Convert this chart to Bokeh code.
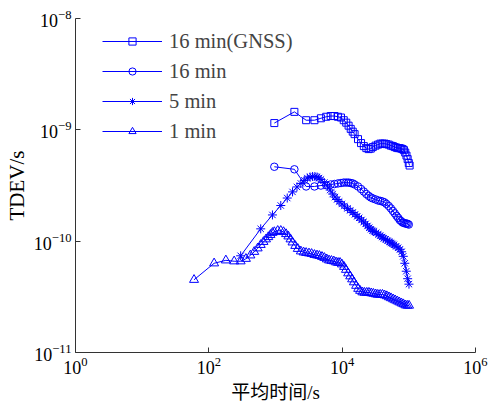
from bokeh.plotting import figure
from bokeh.models import Legend, LegendItem, FixedTicker, Range1d
from bokeh.embed import file_html
from bokeh.resources import INLINE

# ---------------- data (averaging time tau in s, TDEV in s) ----------------
tau_gnss = [960, 1920, 2880, 3840, 4800, 5760, 6720, 7680, 8640, 9600, 10560, 11520,
            12480, 13440, 14400, 15360, 17280, 19200, 21120, 23040, 24960, 26880, 28800,
            31680, 34560, 37440, 40320, 43200, 46080, 49920, 53760, 57600, 61440, 65280,
            69120, 72960, 76800, 80640, 84480, 88320, 92160, 96000, 99840, 102720]
tdev_gnss = [1.15e-9, 1.45e-9, 1.22e-9, 1.22e-9, 1.27e-9, 1.31e-9, 1.33e-9, 1.33e-9,
             1.31e-9, 1.29e-9, 1.22e-9, 1.16e-9, 1.09e-9, 1.02e-9, 0.963e-9, 0.915e-9,
             0.825e-9, 0.760e-9, 0.714e-9, 0.685e-9, 0.671e-9, 0.678e-9, 0.700e-9,
             0.721e-9, 0.737e-9, 0.752e-9, 0.752e-9, 0.752e-9, 0.744e-9, 0.737e-9,
             0.721e-9, 0.714e-9, 0.700e-9, 0.692e-9, 0.685e-9, 0.685e-9, 0.678e-9,
             0.671e-9, 0.657e-9, 0.625e-9, 0.587e-9, 0.546e-9, 0.503e-9, 0.478e-9]

tau_16 = [960, 1920, 2880, 3840, 4800, 5760, 6720, 7680, 8640, 9600, 10560, 11520,
          12480, 13440, 14400, 15360, 17280, 19200, 21120, 23040, 24960, 26880, 28800,
          31680, 34560, 37440, 40320, 43200, 46080, 49920, 53760, 57600, 61440, 65280,
          69120, 72960, 76800, 80640, 84480, 88320, 92160, 96000, 99840]
tdev_16 = [4.66e-10, 4.42e-10, 3.10e-10, 3.10e-10, 3.16e-10, 3.19e-10, 3.23e-10, 3.26e-10,
           3.30e-10, 3.33e-10, 3.36e-10, 3.36e-10, 3.36e-10, 3.33e-10, 3.30e-10, 3.23e-10,
           3.10e-10, 2.94e-10, 2.79e-10, 2.65e-10, 2.55e-10, 2.47e-10, 2.42e-10, 2.37e-10,
           2.32e-10, 2.30e-10, 2.27e-10, 2.23e-10, 2.16e-10, 2.07e-10, 1.97e-10, 1.87e-10,
           1.78e-10, 1.69e-10, 1.62e-10, 1.55e-10, 1.51e-10, 1.47e-10, 1.46e-10, 1.44e-10,
           1.44e-10, 1.43e-10, 1.41e-10]

tau_5 = [300, 600, 900, 1200, 1500, 1800, 2100, 2400, 2700, 3000, 3300, 3600, 3900, 4200,
         4500, 4800, 5400, 6000, 6600, 7200, 7800, 8400, 9000, 9900, 10800, 12000, 13200,
         14400, 15600, 16800, 18000, 19500, 21000, 22500, 24000, 25500, 27000, 28500,
         30000, 32400, 34800, 37200, 39600, 42000, 45000, 48000, 51000, 54000, 57000,
         60000, 64500, 69000, 73500, 78000, 82500, 87000, 91500, 96000, 100500]
tdev_5 = [7.39e-11, 1.29e-10, 1.72e-10, 2.09e-10, 2.44e-10, 2.77e-10, 3.07e-10, 3.30e-10,
          3.51e-10, 3.69e-10, 3.77e-10, 3.81e-10, 3.81e-10, 3.77e-10, 3.69e-10, 3.58e-10,
          3.36e-10, 3.13e-10, 2.88e-10, 2.65e-10, 2.49e-10, 2.37e-10, 2.27e-10, 2.16e-10,
          2.07e-10, 1.97e-10, 1.89e-10, 1.81e-10, 1.74e-10, 1.67e-10, 1.62e-10, 1.55e-10,
          1.49e-10, 1.43e-10, 1.37e-10, 1.32e-10, 1.28e-10, 1.24e-10, 1.22e-10, 1.19e-10,
          1.15e-10, 1.12e-10, 1.09e-10, 1.06e-10, 1.04e-10, 1.01e-10, 9.86e-11, 9.66e-11,
          9.46e-11, 9.27e-11, 8.99e-11, 8.72e-11, 8.45e-11, 8.03e-11, 7.31e-11, 6.33e-11,
          5.37e-11, 4.60e-11, 4.11e-11]

tau_1 = [60, 120, 180, 240, 300, 360, 420, 480, 540, 600, 660, 720, 780, 840, 900, 960,
         1080, 1200, 1320, 1440, 1560, 1680, 1800, 1980, 2160, 2400, 2640, 2880, 3180,
         3480, 3840, 4200, 4560, 4980, 5400, 5880, 6360, 6900, 7500, 8100, 8700, 9300,
         9900, 10680, 11400, 12300, 13200, 14100, 15000, 16200, 17400, 18600, 20100,
         21600, 23400, 25200, 27300, 29400, 31800, 34200, 37200, 40200, 43200, 46800,
         50400, 54000, 58200, 62400, 67200, 72000, 77400, 82800, 88800, 94800, 100800]
tdev_1 = [4.50e-11, 6.33e-11, 6.73e-11, 6.60e-11, 6.60e-11, 6.95e-11, 7.46e-11, 8.03e-11,
          8.63e-11, 9.27e-11, 9.86e-11, 1.04e-10, 1.09e-10, 1.14e-10, 1.19e-10, 1.21e-10,
          1.24e-10, 1.24e-10, 1.21e-10, 1.16e-10, 1.105e-10, 1.04e-10, 9.76e-11, 9.08e-11,
          8.54e-11, 8.11e-11, 7.94e-11, 7.86e-11, 7.78e-11, 7.70e-11, 7.54e-11, 7.46e-11,
          7.39e-11, 7.24e-11, 7.09e-11, 6.88e-11, 6.73e-11, 6.67e-11, 6.60e-11, 6.46e-11,
          6.40e-11, 6.40e-11, 6.20e-11, 5.89e-11, 5.54e-11, 5.15e-11, 4.84e-11, 4.55e-11,
          4.28e-11, 3.98e-11, 3.74e-11, 3.59e-11, 3.48e-11, 3.45e-11, 3.45e-11, 3.45e-11,
          3.41e-11, 3.38e-11, 3.34e-11, 3.31e-11, 3.31e-11, 3.31e-11, 3.27e-11, 3.21e-11,
          3.14e-11, 3.08e-11, 3.01e-11, 2.95e-11, 2.89e-11, 2.83e-11, 2.77e-11, 2.72e-11,
          2.66e-11, 2.64e-11, 2.64e-11]

labels = ["16 min(GNSS)", "16 min", "5 min", "1 min"]
x_ticks = [1, 1e2, 1e4, 1e6]
y_ticks = [1e-11, 1e-10, 1e-9, 1e-8]
x_title = "平均时间/s"
y_title = "TDEV/s"

# ---------------- figure ----------------
BLUE = "#0000FF"
SERIF = "Liberation Serif"

p = figure(width=490, height=405, x_axis_type="log", y_axis_type="log",
           x_range=Range1d(1, 1e6), y_range=Range1d(1e-11, 1e-8),
           output_backend="svg", toolbar_location=None,
           min_border_left=75, min_border_right=15, min_border_top=18, min_border_bottom=52)
p.outline_line_color = None
p.grid.visible = False
p.background_fill_color = "white"
p.border_fill_color = "white"

series = [
    (tau_gnss, tdev_gnss, "square", 7),
    (tau_16, tdev_16, "circle", 7.5),
    (tau_5, tdev_5, "asterisk", 9),
    (tau_1, tdev_1, "triangle", 9),
]

items = []
for (xs, ys, mk, sz), lab in zip(series, labels):
    lr = p.line(xs, ys, line_color=BLUE, line_width=1)
    sr = p.scatter(xs, ys, marker=mk, size=sz, line_color=BLUE, line_width=1,
                   fill_color=None)
    items.append(LegendItem(label=lab, renderers=[lr, sr]))

legend = Legend(items=items, location=(27, 209), margin=0, padding=0, spacing=6,
                glyph_width=60, glyph_height=18, label_height=24, label_standoff=7,
                label_text_font=SERIF, label_text_font_size="20.5px",
                border_line_color=None, background_fill_alpha=0)
p.add_layout(legend)

p.xaxis.ticker = FixedTicker(ticks=x_ticks)
p.yaxis.ticker = FixedTicker(ticks=y_ticks)
for ax in (p.xaxis[0], p.yaxis[0]):
    ax.major_tick_in = 5
    ax.major_tick_out = 0
    ax.minor_tick_in = 0
    ax.minor_tick_out = 0
    ax.axis_line_color = "#333333"
    ax.major_tick_line_color = "#333333"
    ax.major_label_text_font = SERIF
    ax.major_label_text_font_size = "18px"
    ax.major_label_text_color = "black"
    ax.axis_label_text_font_style = "normal"
    ax.axis_label_text_color = "black"

p.xaxis.axis_label = x_title
p.xaxis.axis_label_text_font = "Liberation Serif, 'Noto Sans CJK SC'"
p.xaxis.axis_label_text_font_size = "19px"
p.xaxis.major_label_standoff = 4
p.xaxis.axis_label_standoff = 5

p.yaxis.axis_label = y_title
p.yaxis.axis_label_text_font = SERIF
p.yaxis.axis_label_text_font_size = "21px"
p.yaxis.major_label_standoff = 4
p.yaxis.axis_label_standoff = 2

open("out.html", "w").write(file_html(p, INLINE))
